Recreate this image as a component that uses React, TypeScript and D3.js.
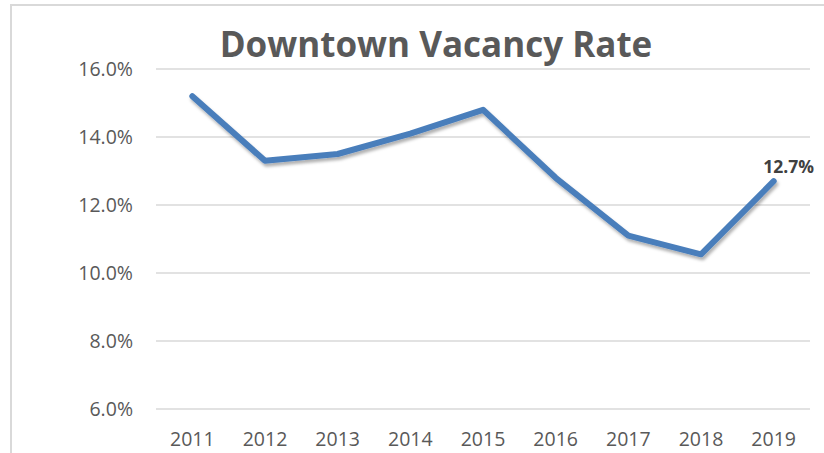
import React from "react";
import * as d3 from "d3";

const years = ["2011", "2012", "2013", "2014", "2015", "2016", "2017", "2018", "2019"];
const vacancy = [15.2, 13.3, 13.5, 14.1, 14.8, 12.8, 11.1, 10.55, 12.7];
const yTicks = [6, 8, 10, 12, 14, 16];
const title = "Downtown Vacancy Rate";

const W = 824;
const H = 453;
const plot = { left: 156, right: 810, top: 69, bottom: 409 };
const FONT = "'Open Sans', 'Noto Sans', sans-serif";

export default function App() {
  const x = d3.scaleBand<string>().domain(years).range([plot.left, plot.right]);
  const y = d3.scaleLinear().domain([6, 16]).range([plot.bottom, plot.top]);
  const line = d3
    .line<number>()
    .x((_, i) => (x(years[i]) as number) + x.bandwidth() / 2)
    .y((d) => y(d));
  const lastI = vacancy.length - 1;
  const lx = (x(years[lastI]) as number) + x.bandwidth() / 2;
  const ly = y(vacancy[lastI]);

  return (
    <svg
      width={W}
      height={H}
      style={{ position: "absolute", left: 0, top: 0, background: "#fff" }}
    >
      <defs>
        <filter id="sh" x="-10%" y="-10%" width="120%" height="130%">
          <feDropShadow dx="1.5" dy="3" stdDeviation="1.8" floodColor="#000" floodOpacity="0.3" />
        </filter>
      </defs>
      <rect x={11} y={5} width={W} height={H} fill="#fff" stroke="#d9d9d9" strokeWidth={2} />
      <text
        x={436}
        y={57}
        textAnchor="middle"
        fontFamily={FONT}
        fontWeight="bold"
        fontSize={35}
        fill="#595959"
      >
        {title}
      </text>
      {yTicks.map((t) => (
        <g key={t}>
          <line x1={plot.left} x2={plot.right} y1={y(t)} y2={y(t)} stroke="#d9d9d9" strokeWidth={1.3} />
          <text
            x={133}
            y={y(t) + 7}
            textAnchor="end"
            fontFamily={FONT}
            fontSize={19.5}
            fill="#595959"
          >
            {t.toFixed(1) + "%"}
          </text>
        </g>
      ))}
      {years.map((yr) => (
        <text
          key={yr}
          x={(x(yr) as number) + x.bandwidth() / 2}
          y={446}
          textAnchor="middle"
          fontFamily={FONT}
          fontSize={19.5}
          fill="#595959"
        >
          {yr}
        </text>
      ))}
      <path
        d={line(vacancy) || ""}
        fill="none"
        stroke="#4a7ebb"
        strokeWidth={6}
        strokeLinecap="round"
        strokeLinejoin="round"
        filter="url(#sh)"
      />
      <text
        x={lx + 15}
        y={ly - 8}
        textAnchor="middle"
        fontFamily={FONT}
        fontWeight="bold"
        fontSize={17.5}
        fill="#404040"
      >
        {vacancy[lastI].toFixed(1) + "%"}
      </text>
    </svg>
  );
}
